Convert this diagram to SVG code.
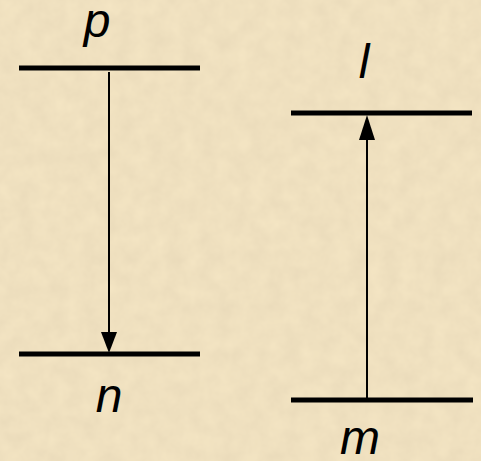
<svg xmlns="http://www.w3.org/2000/svg" width="481" height="461" viewBox="0 0 481 461">
  <defs>
    <filter id="parch" x="0" y="0" width="100%" height="100%">
      <feTurbulence type="fractalNoise" baseFrequency="0.06" numOctaves="3" seed="4" result="n"/>
      <feColorMatrix in="n" type="matrix" values="0 0 0 0 0.6  0 0 0 0 0.5  0 0 0 0 0.35  0 0 0 0.28 0"/>
    </filter>
    <style>
      .lvl { stroke: #000; stroke-width: 5; }
      .arr { stroke: #000; stroke-width: 2; fill: none; }
      .head { fill: #000; }
      .lbl { font-family: "Liberation Sans", Arial, sans-serif; font-style: italic; font-size: 48px; fill: #000; text-anchor: middle; }
    </style>
  </defs>
  <rect width="481" height="461" fill="#f5e6c4"/>
  <rect width="481" height="461" filter="url(#parch)"/>

  <g id="level-p">
    <line class="lvl" x1="19" y1="68" x2="200" y2="68"/>
    <text class="lbl" x="97" y="37">p</text>
  </g>
  <g id="level-n">
    <line class="lvl" x1="19" y1="354" x2="200" y2="354"/>
    <text class="lbl" x="109" y="412">n</text>
  </g>
  <g id="level-l">
    <line class="lvl" x1="291" y1="113" x2="472" y2="113"/>
    <text class="lbl" x="364" y="78">l</text>
  </g>
  <g id="level-m">
    <line class="lvl" x1="291" y1="400" x2="473" y2="400"/>
    <text class="lbl" x="360" y="454">m</text>
  </g>

  <g id="connectors">
    <line class="arr" x1="109" y1="72" x2="109" y2="334"/>
    <polygon class="head" points="101,332 117,332 109,353"/>
    <line class="arr" x1="367" y1="398" x2="367" y2="138"/>
    <polygon class="head" points="359,140 375,140 367,115"/>
  </g>
</svg>
